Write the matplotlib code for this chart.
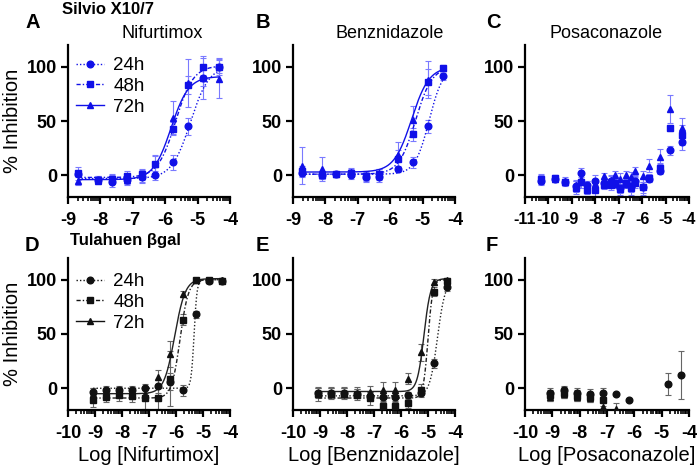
import numpy as np
import matplotlib
matplotlib.use('Agg')
import matplotlib.pyplot as plt
from matplotlib.lines import Line2D

plt.rcParams['font.family'] = ['Liberation Sans', 'DejaVu Sans']
plt.rcParams['axes.unicode_minus'] = False

# ---------------- data ----------------
series_names = ['24h', '48h', '72h']

# Silvio X10/7 - Nifurtimox
xA = [-8.69, -8.08, -7.63, -7.18, -6.72, -6.32, -5.77, -5.30, -4.82, -4.35]
A24 = [1, -4, -6, -4, -2, 0, 12, 45, 90, 100]
A48 = [2, -4, -3, -1, 1, 10, 43, 83, 100, 100]
A72 = [-5, -5, -4, -4, -1, 10, 53, 85, 90, 89]
A24e = [3, 3, 5, 4, 4, 4, 7, 8, 8, 6]
A48e = [6, 3, 4, 5, 5, 8, 6, 8, 8, 8]
A72e = [4, 3, 4, 5, 6, 9, 15, 22, 20, 18]
fitA = [(-3, 101, -5.22, 1.5), (-2, 101, -5.68, 1.6), (-4, 91, -5.82, 1.6)]

# Silvio X10/7 - Benznidazole
xB = [-8.71, -8.10, -7.67, -7.22, -6.75, -6.36, -5.75, -5.31, -4.83, -4.36]
B24 = [2, 0, 1, 0, -2, -2, 6, 12, 45, 91]
B48 = [4, 0, 1, 2, -1, 1, 15, 38, 86, 99]
B72 = [9, 6, 1, 3, 0, 2, 19, 51, 88, 99]
B24e = [4, 3, 2, 3, 4, 4, 3, 5, 6, 3]
B48e = [5, 3, 2, 4, 4, 5, 8, 6, 12, 3]
B72e = [17, 11, 2, 4, 4, 4, 12, 13, 17, 3]
fitB = [(1, 100, -4.80, 2.0), (1, 100, -5.22, 1.7), (3, 100, -5.34, 1.6)]

# Silvio X10/7 - Posaconazole
xC = [-10.32, -9.72, -9.28, -8.82, -8.60, -8.35, -8.00, -7.61, -7.35, -7.14,
      -6.93, -6.67, -6.47, -6.29, -5.97, -5.69, -5.23, -4.79, -4.30]
C24 = [-5, -3, -6, -10, 2, -9, -5, -7, -5, -7, -12, -8, -10, -5, -11, -3, 4, 23, 31]
C48 = [-3, -2.5, -6.5, -11.5, -6.5, -13.5, -14, -9, -9, -8, -13, -7, -12, -7, -10.5, -2.5, 7, 43.5, 37]
C72 = [-4, -3, -5, -9, -3, -9, -8, -1, -4, 0, -3, 0, -2, 4, -1, 9, 17, 61, 43.5]
C24e = [4, 3, 3, 5, 5, 4, 5, 4, 4, 4, 4, 4, 5, 4, 5, 3, 3, 4, 8]
C48e = [4, 3, 3, 6, 5, 4, 5, 4, 5, 4, 5, 4, 6, 5, 8, 4, 4, 3, 9]
C72e = [4, 3, 3, 5, 4, 4, 5, 3, 4, 4, 5, 4, 5, 4, 5, 6, 7, 13, 9]

# Tulahuen bgal - Nifurtimox
xD = [-9.07, -8.59, -8.11, -7.64, -7.16, -6.68, -6.21, -5.73, -5.25, -4.78, -4.30]
D24 = [-3, -2, -2, -2, 0, 2, 6, -2, 68, 99, 99]
D48 = [-11, -8, -6, -7, -9, -9, 9, 63, 100, 100, 99]
D72 = [-5, -5, -4, -5, -5, 10, 32, 87, 100, 100, 100]
D24e = [3, 4, 4, 4, 4, 6, 8, 5, 3, 2, 2]
D48e = [6, 5, 6, 6, 10, 10, 25, 5, 2, 2, 2]
D72e = [5, 5, 5, 5, 5, 7, 12, 3, 2, 2, 2]
fitD = [(0, 100, -5.33, 8.0), (-9, 100, -5.85, 2.8), (-5, 101, -6.05, 2.2)]

# Tulahuen bgal - Benznidazole
xE = [-9.07, -8.59, -8.11, -7.64, -7.16, -6.68, -6.21, -5.73, -5.25, -4.78, -4.30]
E24 = [-4, -4, -4, -5, -7, -8, -8, -6, -4, 23, 93]
E48 = [-5.5, -5, -5, -6, -9, -16, -16, -14, -1.5, 89, 99]
E72 = [-4, -4, -4, -4, -3, -2, -2, 9, 33, 98, 100]
E24e = [4, 4, 4, 4, 4, 4, 4, 3, 4, 4, 3]
E48e = [6, 5, 5, 5, 6, 3, 3, 4, 5, 4, 2]
E72e = [5, 5, 5, 5, 5, 8, 8, 5, 8, 3, 2]
fitE = [(-7, 100, -4.65, 3.0), (-9, 100, -5.00, 5.0), (-3, 101, -5.15, 3.5)]

# Tulahuen bgal - Posaconazole
xF24 = [-9.07, -8.59, -8.11, -7.64, -7.16, -6.68, -6.21, -4.78, -4.30]
F24 = [-4, -2, -4, -5, -4, -5, -11, 4, 12]
F24e = [4, 4, 4, 4, 4, 1, 1, 10, 22]
xF48 = [-9.07, -8.59, -8.11, -7.64, -7.16]
F48 = [-6.5, -4, -7, -8, -11]
F48e = [5, 5, 5, 5, 5]
xF72 = [-9.07, -8.59, -8.11, -7.64, -7.16, -6.68]
F72 = [-8, -5, -8, -9, -17, -19]
F72e = [4, 4, 4, 4, 4, 5]

# ---------------- figure ----------------
W, H = 699, 470
fig = plt.figure(figsize=(W / 100, H / 100), dpi=100)


def ax_at(l, t, w, h):
    return fig.add_axes([l / W, 1 - (t + h) / H, w / W, h / H])


axA = ax_at(68, 45, 162, 152)
axB = ax_at(293, 45, 162, 152)
axC = ax_at(525, 45, 164, 152)
axD = ax_at(68, 258, 162, 152)
axE = ax_at(293, 258, 162, 152)
axF = ax_at(525, 258, 164, 152)

markers = ['o', 's', '^']
blue_styles = [(0, (1, 1.5)), (0, (3, 1.5, 1, 1.5)), '-']


def style(ax, lo, hi, xsize=13):
    ax.set_xlim(lo, hi)
    ax.set_ylim(-20, 120)
    ax.spines[['top', 'right']].set_visible(False)
    for s in ['left', 'bottom']:
        ax.spines[s].set_linewidth(1.6)
    ticks = list(range(lo, hi + 1))
    ax.set_xticks(ticks)
    ax.set_xticklabels([str(t) for t in ticks])
    minors = [n + np.log10(k) for n in range(lo, hi) for k in range(2, 10)]
    ax.set_xticks(minors, minor=True)
    ax.set_yticks([0, 50, 100])
    ax.tick_params(which='major', length=5, width=1.6, labelsize=13)
    ax.tick_params(axis='x', which='major', pad=6, labelsize=xsize)
    ax.tick_params(axis='y', which='major', pad=3)
    ax.tick_params(which='minor', length=3, width=1.2)
    for lab in ax.get_xticklabels() + ax.get_yticklabels():
        lab.set_fontweight('bold')


def draw(ax, xs, ys, es, color, ecolor, lcolor, fits=None):
    for i, (x, y, e) in enumerate(zip(xs, ys, es)):
        ax.errorbar(x, y, yerr=e, fmt='none', ecolor=ecolor, elinewidth=0.8,
                    capsize=2.5, capthick=0.8, zorder=2)
        if fits is not None:
            b, t, ec, h = fits[i]
            xx = np.linspace(min(x), max(x), 300)
            yy = b + (t - b) / (1 + 10 ** ((ec - xx) * h))
            ax.plot(xx, yy, color=lcolor, ls=blue_styles[i], lw=1.0, zorder=3)
        ax.plot(x, y, ls='none', marker=markers[i], ms=4.8, color=color,
                mec=color, zorder=4)


BLUE = '#1010e8'
BLUE_E = '#7a7aff'
BLACK = '#111111'
GREY_E = '#666666'

draw(axA, [xA] * 3, [A24, A48, A72], [A24e, A48e, A72e], BLUE, BLUE_E, BLUE, fitA)
draw(axB, [xB] * 3, [B24, B48, B72], [B24e, B48e, B72e], BLUE, BLUE_E, BLUE, fitB)
draw(axC, [xC] * 3, [C24, C48, C72], [C24e, C48e, C72e], BLUE, BLUE_E, BLUE)
draw(axD, [xD] * 3, [D24, D48, D72], [D24e, D48e, D72e], BLACK, GREY_E, '#222222', fitD)
draw(axE, [xE] * 3, [E24, E48, E72], [E24e, E48e, E72e], BLACK, GREY_E, '#222222', fitE)
draw(axF, [xF24, xF48, xF72], [F24, F48, F72], [F24e, F48e, F72e], BLACK, GREY_E, '#222222')

style(axA, -9, -4)
style(axB, -9, -4)
style(axC, -11, -4, xsize=11.5)
style(axD, -10, -4)
style(axE, -10, -4)
style(axF, -10, -4)

for ax in (axA, axD):
    ax.set_ylabel('% Inhibition', fontsize=14.5, labelpad=3)

axD.set_xlabel('Log [Nifurtimox]', fontsize=14.5, labelpad=3)
axE.set_xlabel('Log [Benznidazole]', fontsize=14.5, labelpad=3)
axF.set_xlabel('Log [Posaconazole]', fontsize=14.5, labelpad=3)


def legend(ax, color, anchor):
    handles = [Line2D([], [], color=color, ls=blue_styles[i], lw=1.0,
                      marker=markers[i], ms=4.8) for i in range(3)]
    ax.legend(handles, series_names, loc='upper left', frameon=False,
              bbox_to_anchor=anchor, bbox_transform=fig.transFigure,
              fontsize=13.5, handlelength=1.5, handletextpad=0.5,
              labelspacing=0.2, borderpad=0, borderaxespad=0)


legend(axA, BLUE, (76 / W, 1 - 57 / H))
legend(axD, BLACK, (76 / W, 1 - 273 / H))

# panel letters and headers
for s, x, y in [('A', 26, 23), ('B', 256, 23), ('C', 486, 23),
                ('D', 25, 245), ('E', 256, 245), ('F', 486, 245)]:
    fig.text(x / W, 1 - y / H, s, fontsize=14.5, fontweight='bold', va='center')

fig.text(62 / W, 1 - 9 / H, 'Silvio X10/7', fontsize=12, fontweight='bold', va='center')
fig.text(70 / W, 1 - 241 / H, 'Tulahuen βgal', fontsize=12, fontweight='bold', va='center')

fig.text(162 / W, 1 - 34 / H, 'Nifurtimox', fontsize=13, ha='center', va='center')
fig.text(390 / W, 1 - 34 / H, 'Benznidazole', fontsize=13, ha='center', va='center')
fig.text(606 / W, 1 - 34 / H, 'Posaconazole', fontsize=13, ha='center', va='center')

fig.savefig('out.png', dpi=100)
